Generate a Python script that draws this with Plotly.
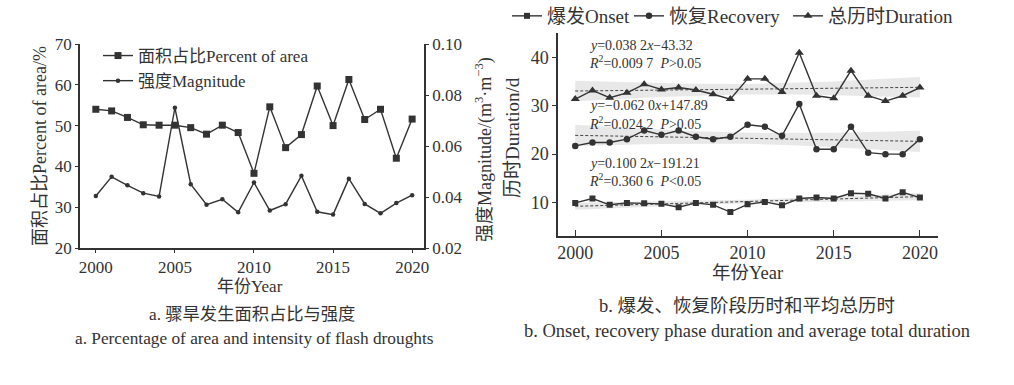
import numpy as np
import plotly.graph_objects as go

years = list(range(2000, 2021))

# Panel a
area_pct = [54.0, 53.6, 52.0, 50.2, 50.1, 50.1, 49.5, 47.9, 50.1, 48.3, 38.3,
            54.6, 44.6, 47.8, 59.7, 50.0, 61.3, 51.5, 54.0, 42.0, 51.6]
magnitude = [0.0404, 0.0479, 0.0446, 0.0415, 0.0402, 0.0750, 0.0450, 0.0370, 0.0391, 0.0340, 0.0457,
             0.0347, 0.0372, 0.0483, 0.0342, 0.0331, 0.0472, 0.0373, 0.0336, 0.0376, 0.0407]

# Panel b
onset = [9.9, 10.8, 9.5, 9.9, 9.8, 9.7, 9.0, 9.9, 9.5, 8.0, 9.6,
         10.1, 9.4, 10.8, 11.0, 10.8, 11.9, 11.8, 10.8, 12.1, 11.0]
recovery = [21.7, 22.4, 22.4, 23.1, 24.9, 24.0, 24.9, 23.6, 23.1, 23.6, 26.1,
            25.7, 23.8, 30.4, 21.0, 21.0, 25.7, 20.3, 20.0, 20.0, 23.1]
duration = [31.4, 33.2, 31.7, 32.7, 34.5, 33.4, 33.8, 33.3, 32.4, 31.4, 35.6,
            35.6, 32.9, 41.0, 32.1, 31.6, 37.3, 32.1, 31.0, 32.1, 33.8]

# printed regression coefficients (slope, intercept)
fit_duration = [0.0382, -43.32]
fit_recovery = [-0.0620, 147.89]
fit_onset = [0.1002, -191.21]

eq_duration = ["<i>y</i>=0.038 2<i>x</i>−43.32", "<i>R</i><sup>2</sup>=0.009 7&nbsp;&nbsp;<i>P</i>&gt;0.05"]
eq_recovery = ["<i>y</i>=−0.062 0<i>x</i>+147.89", "<i>R</i><sup>2</sup>=0.024 2&nbsp;&nbsp;<i>P</i>&gt;0.05"]
eq_onset = ["<i>y</i>=0.100 2<i>x</i>−191.21", "<i>R</i><sup>2</sup>=0.360 6&nbsp;&nbsp;<i>P</i>&lt;0.05"]

W, H = 1014, 385
FONT = "Liberation Serif, Times New Roman, Noto Sans CJK SC, serif"
TXT = "#333333"
LC = "#333333"


def px(xp):
    return xp / W


def py(yp):
    return 1 - yp / H


def band(xs, ys, coef):
    x = np.array(xs, float)
    y = np.array(ys, float)
    yhat = coef[0] * x + coef[1]
    n = len(x)
    s = np.sqrt(np.sum((y - yhat) ** 2) / (n - 2))
    sxx = np.sum((x - x.mean()) ** 2)
    se = s * np.sqrt(1 / n + (x - x.mean()) ** 2 / sxx)
    t = 2.093
    return yhat, yhat - t * se, yhat + t * se


fig = go.Figure()

# ---- Panel a ----
fig.add_trace(go.Scatter(x=years, y=area_pct, mode="lines+markers", name="面积占比Percent of area",
                         line=dict(color=LC, width=1.4), marker=dict(symbol="square", size=7, color=LC),
                         xaxis="x", yaxis="y", legend="legend"))
fig.add_trace(go.Scatter(x=years, y=magnitude, mode="lines+markers", name="强度Magnitude",
                         line=dict(color=LC, width=1.4), marker=dict(symbol="circle", size=4.5, color=LC),
                         xaxis="x", yaxis="y2", legend="legend"))

# ---- Panel b ----
for vals, coef in [(duration, fit_duration), (recovery, fit_recovery), (onset, fit_onset)]:
    yhat, lo, hi = band(years, vals, coef)
    fig.add_trace(go.Scatter(x=years + years[::-1], y=list(hi) + list(lo[::-1]), fill="toself",
                             fillcolor="rgba(210,210,210,0.5)", line=dict(width=0), mode="lines",
                             showlegend=False, hoverinfo="skip", xaxis="x2", yaxis="y3"))
    fig.add_trace(go.Scatter(x=years, y=yhat, mode="lines", line=dict(color="#444", width=1, dash="3px,2px"),
                             showlegend=False, xaxis="x2", yaxis="y3"))

fig.add_trace(go.Scatter(x=years, y=onset, mode="lines+markers", name="爆发Onset",
                         line=dict(color=LC, width=1.4), marker=dict(symbol="square", size=6, color=LC),
                         xaxis="x2", yaxis="y3", legend="legend2"))
fig.add_trace(go.Scatter(x=years, y=recovery, mode="lines+markers", name="恢复Recovery",
                         line=dict(color=LC, width=1.4), marker=dict(symbol="circle", size=6.5, color=LC),
                         xaxis="x2", yaxis="y3", legend="legend3"))
fig.add_trace(go.Scatter(x=years, y=duration, mode="lines+markers", name="总历时Duration",
                         line=dict(color=LC, width=1.4), marker=dict(symbol="triangle-up", size=8, color=LC),
                         xaxis="x2", yaxis="y3", legend="legend4"))


def axis_style(size, ticks="outside", ticklen=3):
    return dict(showline=True, linecolor="#333", linewidth=1.5, showgrid=False, zeroline=False,
                ticks=ticks, ticklen=ticklen, tickcolor="#333", tickwidth=1.2,
                tickfont=dict(family=FONT, size=size, color=TXT))


def top_legend(xp):
    return dict(x=px(xp), y=py(-3), xanchor="left", yanchor="top", orientation="h",
                bgcolor="rgba(0,0,0,0)", font=dict(family=FONT, size=19, color=TXT), itemwidth=30)


fig.update_layout(
    width=W, height=H, margin=dict(l=0, r=0, t=0, b=0, autoexpand=False),
    paper_bgcolor="white", plot_bgcolor="white",
    font=dict(family=FONT, color=TXT),
    xaxis=dict(domain=[px(80), px(424)], range=[1999.0, 2020.75], tickvals=[2000, 2005, 2010, 2015, 2020],
               anchor="y", **axis_style(17)),
    yaxis=dict(domain=[py(248), py(44)], range=[20, 70], tickvals=[20, 30, 40, 50, 60, 70],
               anchor="x", **axis_style(17)),
    yaxis2=dict(overlaying="y", side="right", range=[0.02, 0.10], tickvals=[0.02, 0.04, 0.06, 0.08, 0.10],
                tickformat=".2f", anchor="x", **axis_style(17)),
    xaxis2=dict(domain=[px(558), px(938)], range=[1999.0, 2021.05], tickvals=[2000, 2005, 2010, 2015, 2020],
                anchor="y3", **axis_style(18, "inside", 6)),
    yaxis3=dict(domain=[py(235.7), py(33)], range=[3.1, 45.1], tickvals=[10, 20, 30, 40],
                anchor="x2", **axis_style(18, "outside", 4)),
    legend=dict(x=px(98), y=py(38), xanchor="left", yanchor="top", bgcolor="rgba(0,0,0,0)",
                font=dict(family=FONT, size=17, color=TXT), tracegroupgap=0, itemwidth=30),
    legend2=top_legend(507),
    legend3=top_legend(629),
    legend4=top_legend(788),
)

ann = []


def add_text(text, x, y, size, angle=0, xanchor="center", yanchor="middle", align="center"):
    ann.append(dict(text=text, x=px(x), y=py(y), xref="paper", yref="paper", showarrow=False,
                    textangle=angle, xanchor=xanchor, yanchor=yanchor, align=align,
                    font=dict(family=FONT, size=size, color=TXT)))


add_text("面积占比Percent of area/%", 40, 146, 18, angle=-90)
add_text("强度Magnitude/(m<sup>3</sup>·m<sup>−3</sup>)", 484, 150, 18, angle=-90)
add_text("年份Year", 250, 286, 17)
add_text("a. 骤旱发生面积占比与强度", 252, 314, 17.3)
add_text("a. Percentage of area and intensity of flash droughts", 254, 338, 17.3)

add_text("历时Duration/d", 512, 138, 19, angle=-90)
add_text("年份Year", 747, 273, 18.5)
add_text("b. 爆发、恢复阶段历时和平均总历时", 747, 306, 18.5)
add_text("b. Onset, recovery phase duration and average total duration", 747, 331, 18.5)

for eq, y1 in [(eq_duration, 45), (eq_recovery, 106), (eq_onset, 163)]:
    add_text(eq[0], 587, y1, 14, xanchor="left", align="left")
    add_text(eq[1], 587, y1 + 17, 14, xanchor="left", align="left")

fig.update_layout(annotations=ann)

fig.write_html("out.html", config={"displayModeBar": False},
               post_script="document.body.style.margin='0';")
